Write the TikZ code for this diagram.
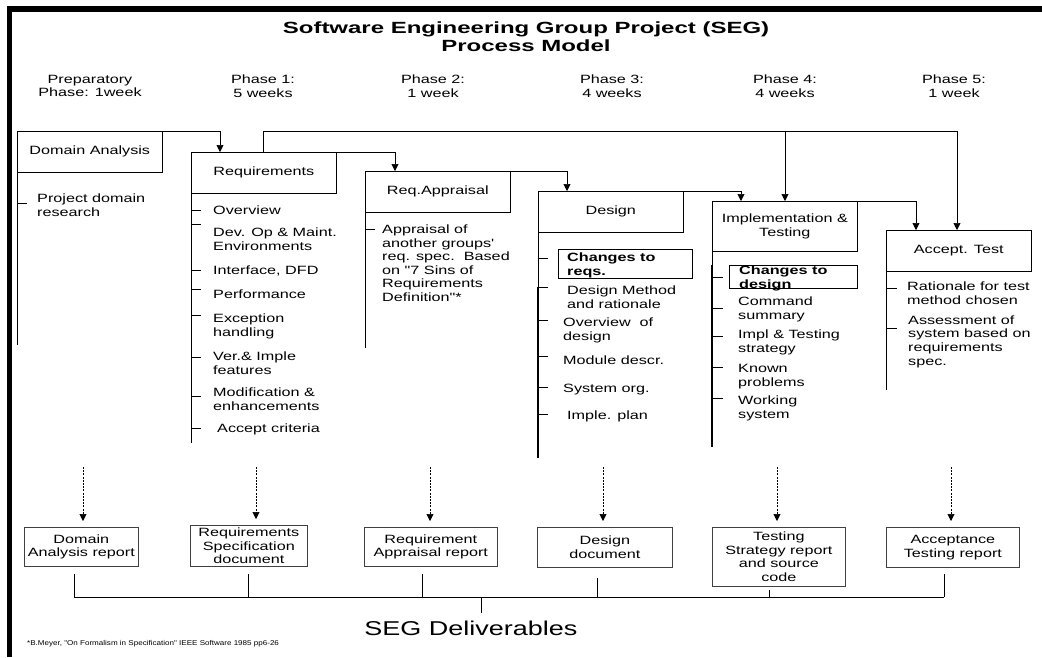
\documentclass[tikz,border=0pt]{standalone}
\usepackage{fontspec}
\setmainfont{Liberation Sans}[FakeStretch=1.35]
\newfontfamily\bodyfont{Liberation Sans}[FakeStretch=1.35]
\newfontfamily\wideFont{Liberation Sans}[FakeStretch=1.48]
\newfontfamily\noteFont{Liberation Sans}[FakeStretch=1.15]
\usetikzlibrary{arrows.meta}
\newcommand{\itemfont}{\bodyfont\fontsize{12}{13.6}\selectfont}
\begin{document}
\begin{tikzpicture}[x=1pt,y=-1pt,
  every node/.style={inner sep=0pt, font=\itemfont},
  pbox/.style={draw, line width=0.6pt, minimum width=145pt, minimum height=41pt, anchor=north west, align=center, font=\itemfont},
  item/.style={anchor=north west, align=left, font=\itemfont, yshift=4.5pt},
  bitem/.style={item, font=\itemfont\bfseries},
  conn/.style={line width=0.6pt},
  arr/.style={conn, -{Triangle[width=7pt,length=7pt]}},
  darr/.style={line width=0.6pt, dash pattern=on 2pt off 1.2pt, -{Triangle[width=7pt,length=7pt]}, shorten >=6pt},
  tickl/.style={line width=0.6pt},
  spine/.style={line width=0.6pt},
  thspine/.style={line width=1.5pt},
  chbox/.style={draw, line width=0.8pt, anchor=north west},
  dbox/.style={draw=black!75, line width=0.7pt, align=center, font=\itemfont, anchor=north west},
  phase/.style={align=center, font=\itemfont},
]
\useasboundingbox (0,0) rectangle (1042,657);
% frame
\draw[line width=5.5pt] (9.5,657) -- (9.5,9) -- (1042,9);
% title
\node[align=center, font=\wideFont\fontsize{16.2}{18}\selectfont\bfseries] (title) at (526,37) {Software Engineering Group Project (SEG)\\Process Model};
% phases
\node[phase] (ph0) at (90,86) {Preparatory\\Phase: 1week};
\node[phase] (ph1) at (263,86) {Phase 1:\\5 weeks};
\node[phase] (ph2) at (433,86) {Phase 2:\\1 week};
\node[phase] (ph3) at (612,86) {Phase 3:\\4 weeks};
\node[phase] (ph4) at (785,86) {Phase 4:\\4 weeks};
\node[phase] (ph5) at (954,86) {Phase 5:\\1 week};
% phase boxes
\node[pbox] (da) at (17,131) {Domain Analysis};
\node[pbox] (req) at (191,152) {Requirements};
\node[pbox] (ra) at (365,171) {Req.Appraisal};
\node[pbox] (des) at (538,191) {Design};
\node[pbox, minimum height=50pt] (impl) at (712,201) {Implementation \&\\Testing};
\node[pbox] (acc) at (886,230) {Accept. Test};
% connectors between phase boxes
\draw[arr] (da.north east) -| ([xshift=29pt]req.north west);
\draw[arr] (req.north east) -| ([xshift=30pt]ra.north west);
\draw[arr] (ra.north east) -| ([xshift=29pt]des.north west);
\draw[arr] (des.north east) -| ([xshift=29pt]impl.north west);
\draw[arr] (impl.north east) -| ([xshift=30pt]acc.north west);
\coordinate (bigL) at (263,131);
\coordinate (bigM) at (785,131);
\coordinate (bigR) at (957,131);
\draw[conn] (req.north -| bigL) -- (bigL) -- (bigR);
\draw[arr] (bigR) -- (acc.north -| bigR);
\draw[arr] (bigM) -- (impl.north -| bigM);
% spines
\draw[spine] (da.south west) -- (17,345);
\draw[spine] (req.south west) -- (191,443);
\draw[spine] (ra.south west) -- (365,348);
\draw[spine] (des.south west) -- (538,287);
\draw[thspine] (538,287) -- (538,458);
\draw[spine] (impl.south west) -- (712,265);
\draw[thspine] (712,265) -- (712,447);
\draw[spine] (acc.south west) -- (886,390);
% Domain analysis items
\draw[tickl] (17,203) -- ++(10,0);
\node[item] (da1) at (37,198) {Project domain\\research};
% Requirements items
\draw[tickl] (191,210) -- ++(10,0);
\node[item] (r1) at (213,210) {Overview};
\draw[tickl] (191,224) -- ++(10,0);
\node[item] (r2) at (213,232) {Dev. Op \& Maint.\\Environments};
\draw[tickl] (191,270) -- ++(10,0);
\node[item] (r3) at (213,270) {Interface, DFD};
\draw[tickl] (191,289) -- ++(10,0);
\node[item] (r4) at (213,294) {Performance};
\draw[tickl] (191,315) -- ++(10,0);
\node[item] (r5) at (213,318) {Exception\\handling};
\draw[tickl] (191,357) -- ++(10,0);
\node[item] (r6) at (213,356) {Ver.\& Imple\\features};
\draw[tickl] (191,396) -- ++(10,0);
\node[item] (r7) at (213,392) {Modification \&\\enhancements};
\draw[tickl] (191,428) -- ++(10,0);
\node[item] (r8) at (217,428) {Accept criteria};
% Req appraisal items
\draw[tickl] (365,229) -- ++(10,0);
\node[item] (a1) at (382,229) {Appraisal of\\another groups'\\req. spec.\ \ Based\\on "7 Sins of\\Requirements\\Definition"*};
% Design items
\draw[tickl] (538,258) -- ++(10,0);
\node[chbox, minimum width=134pt, minimum height=29pt] (chreq) at (558,248.5) {};
\node[bitem] (d1) at (567,257) {Changes to\\reqs.};
\draw[tickl] (538,287) -- ++(10,0);
\node[item] (d2) at (567,290) {Design Method\\and rationale};
\draw[tickl] (538,320) -- ++(10,0);
\node[item] (d3) at (563,322) {Overview\ \ of\\design};
\draw[tickl] (538,356) -- ++(10,0);
\node[item] (d4) at (563,360) {Module descr.};
\draw[tickl] (538,387) -- ++(10,0);
\node[item] (d5) at (563,388) {System org.};
\draw[tickl] (538,414) -- ++(10,0);
\node[item] (d6) at (567,415) {Imple. plan};
% Implementation items
\draw[tickl] (712,277) -- ++(11,0);
\node[chbox, minimum width=128pt, minimum height=23pt] (chdes) at (729,265) {};
\node[bitem] (i1) at (739,270) {Changes to\\design};
\draw[tickl] (712,308) -- ++(11,0);
\node[item] (i2) at (738,301) {Command\\summary};
\draw[tickl] (712,336) -- ++(11,0);
\node[item] (i3) at (738,334) {Impl \& Testing\\strategy};
\draw[tickl] (712,367) -- ++(11,0);
\node[item] (i4) at (738,369) {Known\\problems};
\draw[tickl] (712,398) -- ++(11,0);
\node[item] (i5) at (738,400) {Working\\system};
% Accept items
\draw[tickl] (886,288) -- ++(11,0);
\node[item] (t1) at (907,286) {Rationale for test\\method chosen};
\draw[tickl] (886,328) -- ++(11,0);
\node[item] (t2) at (908,320) {Assessment of\\system based on\\requirements\\spec.};
% deliverable boxes
\node[dbox, minimum width=114pt, minimum height=39pt] (b1) at (24,527) {Domain\\Analysis report};
\node[dbox, minimum width=117pt, minimum height=41pt] (b2) at (190,525) {Requirements\\Specification\\document};
\node[dbox, minimum width=133pt, minimum height=39pt] (b3) at (364,527) {Requirement\\Appraisal report};
\node[dbox, minimum width=135pt, minimum height=40pt] (b4) at (537,527) {Design\\document};
\node[dbox, minimum width=133pt, minimum height=59pt] (b5) at (712,527) {Testing\\Strategy report\\and source\\code};
\node[dbox, minimum width=133pt, minimum height=40pt] (b6) at (886,527) {Acceptance\\Testing report};
% dotted arrows
\coordinate (e1) at (83,467);
\coordinate (e2) at (256,467);
\coordinate (e3) at (430,467);
\coordinate (e4) at (603,467);
\coordinate (e5) at (777,467);
\coordinate (e6) at (951,467);
\draw[darr] (e1) -- (e1 |- b1.north);
\draw[darr] (e2) -- (e2 |- b2.north);
\draw[darr] (e3) -- (e3 |- b3.north);
\draw[darr] (e4) -- (e4 |- b4.north);
\draw[darr] (e5) -- (e5 |- b5.north);
\draw[darr] (e6) -- (e6 |- b6.north);
% bracket
\coordinate (k1) at (74,597);
\coordinate (k2) at (248,597);
\coordinate (k3) at (422,597);
\coordinate (k4) at (597,597);
\coordinate (k5) at (769,597);
\coordinate (k6) at (944,597);
\coordinate (kc) at (481,597);
\draw[conn] (k1) -- (k6);
\draw[conn] (k1) -- (74,574);
\draw[conn] (k2) -- (248,574);
\draw[conn] (k3) -- (422,574);
\draw[conn] (k4) -- (597,578);
\draw[conn] (k5) -- (769,590);
\draw[conn] (k6) -- (944,574);
\draw[conn] (kc) -- (481,613);
\node[font=\bodyfont\fontsize{20}{24}\selectfont] (seg) at (471,628) {SEG Deliverables};
\node[anchor=west, font=\noteFont\fontsize{7}{8}\selectfont] (fn) at (27,644) {*B.Meyer, "On Formalism in Specification" IEEE Software 1985 pp6-26};
\end{tikzpicture}
\end{document}
